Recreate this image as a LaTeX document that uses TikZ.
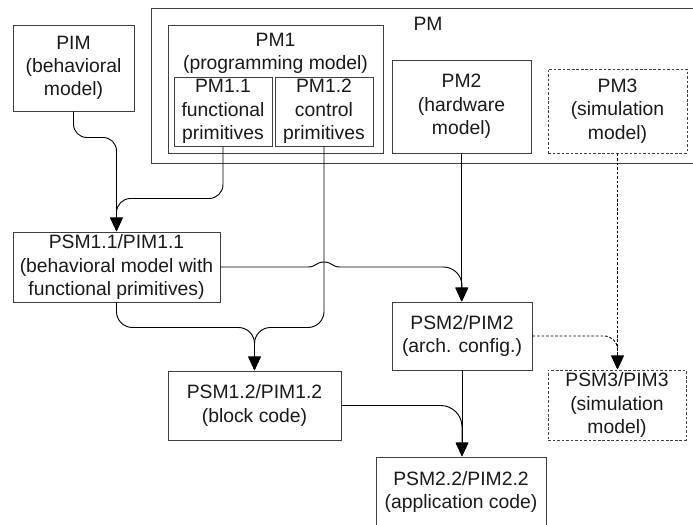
\documentclass[tikz,border=0pt]{standalone}
\usepackage{fontspec}
\setmainfont{Liberation Sans}
\usetikzlibrary{arrows.meta}
\begin{document}
\begin{tikzpicture}[x=0.75pt,y=-0.75pt,
  txt/.style={font=\fontsize{14.5}{17.5}\selectfont, text=black!90},
  box/.style={txt, draw=black!75, line width=0.75pt, align=center, inner sep=0pt},
  dbox/.style={box, dash pattern=on 2pt off 1.4pt},
  sz/.style 2 args={minimum width=#1*0.75pt, minimum height=#2*0.75pt},
  lbl/.style={txt, anchor=north, inner sep=0pt, align=center},
  conn/.style={line width=0.7pt, -{Triangle[length=10.5pt,width=9.5pt]}},
  dconn/.style={conn, dash pattern=on 2pt off 1.4pt}
]
\useasboundingbox (0,0) rectangle (693,525);
\clip (0,0) rectangle (693,525);

% platform model frame and its parts
\node[box, sz={554}{155}, label={[lbl, yshift=-6.75pt]north:PM}] (pm) at (428,85.5) {};
\node[box, sz={215}{128}, label={[lbl, yshift=-6pt]north:PM1\\(programming model)}] (pm1) at (275.5,89) {};
\node[box, sz={98}{69}] (pm11) at (223,111.5) {PM1.1\\functional\\primitives};
\node[box, sz={98}{69}] (pm12) at (324,111.5) {PM1.2\\control\\primitives};
\node[box, sz={139}{93}] (pm2) at (461.5,106.5) {PM2\\(hardware\\model)};
\node[dbox, sz={139}{84}] (pm3) at (617.5,111) {PM3\\(simulation\\model)};

% behavioral model
\node[box, sz={121}{86}] (pim) at (73.5,68) {PIM\\(behavioral\\model)};

% derived models
\node[box, sz={207}{70}] (psm11) at (116.5,267) {PSM1.1/PIM1.1\\(behavioral model with\\functional primitives)};
\node[box, sz={140}{68}] (psm2) at (462,336) {PSM2/PIM2\\(arch. config.)};
\node[dbox, sz={138}{70}] (psm3) at (617,405) {PSM3/PIM3\\(simulation\\model)};
\node[box, sz={173}{69}] (psm12) at (254.5,405.5) {PSM1.2/PIM1.2\\(block code)};
\node[box, sz={170}{70}] (psm22) at (461,492) {PSM2.2/PIM2.2\\(application code)};

% connectors
\draw[conn, rounded corners=10pt] (pim.south) -- ++(0,26) -| (psm11.north);
\draw[conn, rounded corners=10.5pt] (pm11.south) -- ++(0,52) -| (psm11.north);
\draw[conn, rounded corners=12pt] (pm12.south) -- ++(0,181) -| (psm12.north);
\draw[conn, rounded corners=12pt] (psm11.south) -- ++(0,25) -| (psm12.north);
\draw[conn] (psm11.east) -- (308,267)
  .. controls (316,267) and (316,262) .. (324,262)
  .. controls (332,262) and (332,267) .. (340,267)
  [rounded corners=14pt] -| (psm2.north);
\draw[conn] (pm2.south) -- (pm2.south |- psm2.north);
\draw[dconn] (pm3.south) -- (pm3.south |- psm3.north);
\draw[dconn, rounded corners=10pt] (psm2.east) -| (pm3.south |- psm3.north);
\draw[conn] (psm2.south) -- (psm2.south |- psm22.north);
\draw[conn, rounded corners=16pt] (psm12.east) -| (psm2.south |- psm22.north);
\end{tikzpicture}
\end{document}
